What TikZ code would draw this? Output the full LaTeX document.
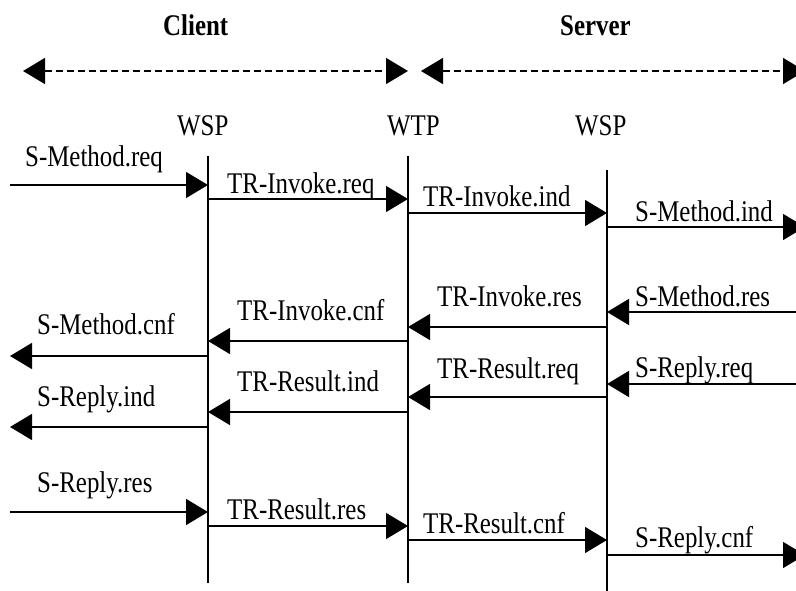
\documentclass[tikz,border=0pt]{standalone}
\usepackage{fontspec}
\setmainfont{Liberation Serif}[FakeStretch=0.83]
\usetikzlibrary{arrows.meta}
\begin{document}
\begin{tikzpicture}[x=1pt,y=-1pt,
  lbl/.style={anchor=base west,inner sep=0pt,font=\fontsize{30}{36}\selectfont},
  hdr/.style={anchor=base west,inner sep=0pt,font=\fontsize{30}{36}\selectfont\bfseries},
  msg/.style={line width=1.5pt,-{Triangle[length=22pt,width=26pt]}},
  dasharr/.style={line width=1.5pt,dash pattern=on 7pt off 4pt,{Triangle[length=22pt,width=26pt]}-{Triangle[length=22pt,width=26pt]}},
  life/.style={line width=1.5pt}]
\useasboundingbox (0,0) rectangle (796,590);
\fill[white] (0,0) rectangle (796,590);

% headers
\node[hdr] (client) at (163,35) {Client};
\node[hdr] (server) at (560,35) {Server};
\coordinate (cl) at (23,71);
\coordinate (cr) at (408,71);
\coordinate (sl) at (421,71);
\coordinate (sr) at (805,71);
\draw[dasharr] (cl) -- (cr);
\draw[dasharr] (sl) -- (sr);

% layer names
\node[lbl] (wsp1) at (177,135) {WSP};
\node[lbl] (wtp) at (387,135) {WTP};
\node[lbl] (wsp2) at (575,135) {WSP};

% lifelines
\coordinate (a0) at (208,156); \coordinate (a1) at (208,583);
\coordinate (b0) at (408,156); \coordinate (b1) at (408,583);
\coordinate (c0) at (607,170); \coordinate (c1) at (607,592);
\draw[life] (a0) -- (a1);
\draw[life] (b0) -- (b1);
\draw[life] (c0) -- (c1);

% left and right free ends
\coordinate (l1) at (10,185);  \coordinate (r1) at (805,227);
\coordinate (r2) at (800,312); \coordinate (l2) at (10,356);
\coordinate (r3) at (800,384); \coordinate (l3) at (10,427);
\coordinate (l4) at (10,512);  \coordinate (r4) at (805,555);

% request phase
\draw[msg] (l1) -- (a0 |- l1);
\node[lbl] (m1) at (25,166) {S-Method.req};
\coordinate (y2) at (0,199);
\draw[msg] (a0 |- y2) -- (b0 |- y2);
\node[lbl] (m2) at (227,193) {TR-Invoke.req};
\coordinate (y3) at (0,213);
\draw[msg] (b0 |- y3) -- (c0 |- y3);
\node[lbl] (m3) at (423,206) {TR-Invoke.ind};
\draw[msg] (c0 |- r1) -- (r1);
\node[lbl] (m4) at (635,221) {S-Method.ind};

% response phase
\draw[msg] (r2) -- (c0 |- r2);
\node[lbl] (m5) at (635,306) {S-Method.res};
\coordinate (y6) at (0,327);
\draw[msg] (c0 |- y6) -- (b0 |- y6);
\node[lbl] (m6) at (437,306) {TR-Invoke.res};
\coordinate (y7) at (0,341);
\draw[msg] (b0 |- y7) -- (a0 |- y7);
\node[lbl] (m7) at (237,320) {TR-Invoke.cnf};
\draw[msg] (a0 |- l2) -- (l2);
\node[lbl] (m8) at (37,334) {S-Method.cnf};

\draw[msg] (r3) -- (c0 |- r3);
\node[lbl] (m9) at (635,377) {S-Reply.req};
\coordinate (y10) at (0,397);
\draw[msg] (c0 |- y10) -- (b0 |- y10);
\node[lbl] (m10) at (437,378) {TR-Result.req};
\coordinate (y11) at (0,412);
\draw[msg] (b0 |- y11) -- (a0 |- y11);
\node[lbl] (m11) at (237,391) {TR-Result.ind};
\draw[msg] (a0 |- l3) -- (l3);
\node[lbl] (m12) at (37,406) {S-Reply.ind};

% acknowledgement phase
\draw[msg] (l4) -- (a0 |- l4);
\node[lbl] (m13) at (37,492) {S-Reply.res};
\coordinate (y14) at (0,526);
\draw[msg] (a0 |- y14) -- (b0 |- y14);
\node[lbl] (m14) at (227,519) {TR-Result.res};
\coordinate (y15) at (0,540);
\draw[msg] (b0 |- y15) -- (c0 |- y15);
\node[lbl] (m15) at (423,533) {TR-Result.cnf};
\draw[msg] (c0 |- r4) -- (r4);
\node[lbl] (m16) at (635,547) {S-Reply.cnf};
\end{tikzpicture}
\end{document}
